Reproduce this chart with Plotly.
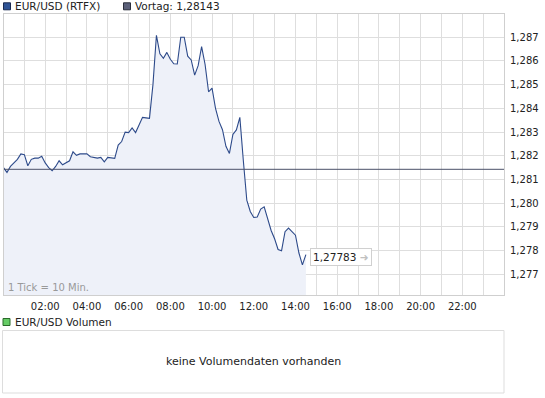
import plotly.graph_objects as go

# ---- data (10-minute ticks starting 00:00) ----
prices = [
    1.28150, 1.28130, 1.28155, 1.28170, 1.28185, 1.28208, 1.28205, 1.28158, 1.28185, 1.28190,
    1.28190, 1.28198, 1.28170, 1.28150, 1.28137, 1.28155, 1.28179, 1.28162, 1.28172, 1.28179,
    1.28217, 1.28202, 1.28208, 1.28208, 1.28208, 1.28196, 1.28192, 1.28190, 1.28193, 1.28174,
    1.28193, 1.28191, 1.28189, 1.28245, 1.28260, 1.28300, 1.28298, 1.28318, 1.28298, 1.28330,
    1.28362, 1.28360, 1.28358, 1.28500, 1.28708, 1.28630, 1.28611, 1.28636, 1.28607, 1.28588,
    1.28587, 1.28700, 1.28700, 1.28620, 1.28604, 1.28540, 1.28580, 1.28660, 1.28585, 1.28470,
    1.28485, 1.28400, 1.28345, 1.28310, 1.28240, 1.28210, 1.28290, 1.28309, 1.28362, 1.28180,
    1.28013, 1.27965, 1.27940, 1.27942, 1.27975, 1.27985, 1.27935, 1.27885, 1.27850, 1.27805,
    1.27800, 1.27880, 1.27895, 1.27878, 1.27865, 1.27790, 1.27740, 1.27783,
]
tick_minutes = 10
times = [i * tick_minutes / 60 for i in range(len(prices))]
vortag = 1.28143
last_label = "1,27783"

hour_ticks = list(range(1, 24))
hour_labels = [f"{h:02d}:00" if h % 2 == 0 else "" for h in hour_ticks]
price_ticks = [1.277, 1.278, 1.279, 1.280, 1.281, 1.282, 1.283, 1.284, 1.285, 1.286, 1.287]
price_labels = [f"{v:.3f}".replace(".", ",") for v in price_ticks]

W, H = 545, 398
def px(x):
    return x / W
def py(y):
    return 1 - y / H

LINE = "#2d4a8a"
FILL = "#eef1f9"
GRID = "#dedede"
FONT = "DejaVu Sans"

fig = go.Figure()
fig.add_trace(go.Scatter(
    x=times, y=prices, mode="lines",
    line=dict(color=LINE, width=1.1),
    fill="tozeroy", fillcolor=FILL,
    hoverinfo="skip", showlegend=False,
))
fig.add_trace(go.Scatter(
    x=[0, 24], y=[vortag, vortag], mode="lines",
    line=dict(color="#4a5068", width=1),
    hoverinfo="skip", showlegend=False,
))

fig.update_layout(
    width=W, height=H,
    margin=dict(l=0, r=0, t=0, b=0),
    paper_bgcolor="white", plot_bgcolor="white",
    font=dict(family=FONT, size=10, color="#222"),
    xaxis=dict(
        domain=[px(3.5), px(504)], range=[0, 24],
        tickvals=hour_ticks, ticktext=hour_labels,
        showgrid=True, gridcolor=GRID, gridwidth=1,
        showline=True, linecolor="#cfcfcf", mirror=True,
        ticks="", zeroline=False, ticklabelstandoff=2,
        tickfont=dict(family=FONT, size=10, color="#222"),
        fixedrange=True,
    ),
    yaxis=dict(
        domain=[py(295), py(13.5)], range=[1.27613, 1.28800],
        side="right",
        tickvals=price_ticks, ticktext=price_labels,
        showgrid=True, gridcolor=GRID, gridwidth=1,
        showline=True, linecolor="#cfcfcf", mirror=True,
        ticks="", zeroline=False, ticklabelstandoff=3,
        tickfont=dict(family=FONT, size=10, color="#222"),
        fixedrange=True,
    ),
)

shapes = []
annotations = []

def legend_item(x_sq, y_c, color, border, text):
    shapes.append(dict(type="rect", xref="paper", yref="paper",
                       x0=px(x_sq), x1=px(x_sq + 7), y0=py(y_c + 3.5), y1=py(y_c - 3.5),
                       fillcolor=color, line=dict(color=border, width=1)))
    annotations.append(dict(xref="paper", yref="paper", x=px(x_sq + 9.5), y=py(y_c),
                            xanchor="left", yanchor="middle", showarrow=False,
                            text=text, font=dict(family=FONT, size=10.5, color="#222")))

legend_item(3.5, 6.3, "#2f5496", "#1a2a50", "EUR/USD (RTFX)")
legend_item(123.5, 6.3, "#5b6079", "#2a2d3a", "Vortag: 1,28143")
legend_item(3.0, 322, "#66cc66", "#2a6a2a", "EUR/USD Volumen")

# volume box
shapes.append(dict(type="rect", xref="paper", yref="paper",
                   x0=px(2.5), x1=px(504), y0=py(393), y1=py(330.5),
                   fillcolor="white", line=dict(color="#dddddd", width=1)))
annotations.append(dict(xref="paper", yref="paper", x=px(253), y=py(361.5),
                        xanchor="center", yanchor="middle", showarrow=False,
                        text="keine Volumendaten vorhanden",
                        font=dict(family=FONT, size=11, color="#222")))

# tick note
annotations.append(dict(xref="paper", yref="paper", x=px(6), y=py(287.5),
                        xanchor="left", yanchor="middle", showarrow=False,
                        text="1 Tick = 10 Min.",
                        font=dict(family=FONT, size=10, color="#999")))

# last value box
annotations.append(dict(xref="x", yref="y", x=times[-1], y=prices[-1],
                        xanchor="left", yanchor="middle", xshift=4, yshift=-2,
                        showarrow=False,
                        text=last_label + " <span style='color:#c0c0c0'>➜</span>",
                        font=dict(family=FONT, size=10.5, color="#222"),
                        bgcolor="white", bordercolor="#d0d0d0", borderwidth=1, borderpad=2))

fig.update_layout(shapes=shapes, annotations=annotations)
fig.write_html("out.html",
               config={"displayModeBar": False},
               post_script="document.body.style.margin='0';document.body.style.overflow='hidden';")
